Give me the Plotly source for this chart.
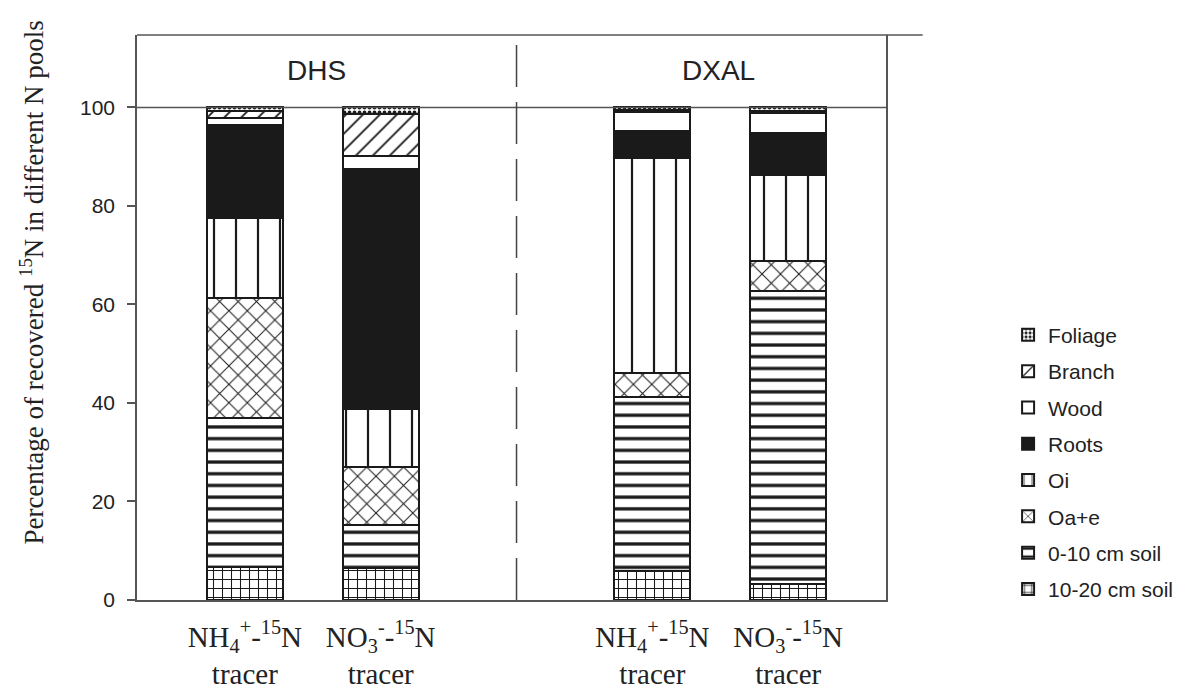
import plotly.graph_objects as go

# ---- data ----
x_pos = [1, 2, 4, 5]
tick_labels = [
    "NH<sub>4</sub><sup>+</sup>-<sup>15</sup>N<br>tracer",
    "NO<sub>3</sub><sup>-</sup>-<sup>15</sup>N<br>tracer",
    "NH<sub>4</sub><sup>+</sup>-<sup>15</sup>N<br>tracer",
    "NO<sub>3</sub><sup>-</sup>-<sup>15</sup>N<br>tracer",
]
panels = ["DHS", "DXAL"]
panel_x = [1.53, 4.49]
divider_x = 3

soil_10_20 = [6.8, 6.5, 5.8, 3.2]
soil_0_10 = [30.1, 8.7, 35.5, 59.5]
oa_e = [24.5, 11.9, 4.8, 6.2]
oi = [16.2, 11.7, 43.7, 17.3]
roots = [18.9, 48.6, 5.4, 8.6]
wood = [1.4, 2.7, 3.8, 4.0]
branch = [1.4, 8.5, 0.4, 0.5]
foliage = [0.7, 1.4, 0.6, 0.7]

y_ticks = [0, 20, 40, 60, 80, 100]

# ---- styles (bottom to top) ----
series = [
    ("10-20 cm soil", soil_10_20, dict(shape="+", size=9, solidity=0.22)),
    ("0-10 cm soil", soil_0_10, dict(shape="-", size=11.7, solidity=0.28)),
    ("Oa+e", oa_e, dict(shape="x", size=13, solidity=0.15)),
    ("Oi", oi, dict(shape="|", size=22, solidity=0.1)),
    ("Roots", roots, None),
    ("Wood", wood, dict(shape="")),
    ("Branch", branch, dict(shape="/", size=12, solidity=0.15)),
    ("Foliage", foliage, dict(shape=".", size=5, solidity=0.45)),
]

fig = go.Figure()
n = len(series)
for i, (name, vals, pat) in enumerate(series):
    if pat is None:
        marker = dict(color="#1a1a1a", line=dict(color="#1a1a1a", width=2))
    else:
        p = dict(pat)
        p.update(fgcolor="#1a1a1a", bgcolor="white", fillmode="replace")
        marker = dict(color="white", pattern=p, line=dict(color="#1a1a1a", width=2))
    fig.add_trace(go.Bar(
        x=x_pos, y=vals, name=name, width=0.56, marker=marker,
        legendgroup=name, legendrank=n - i, hoverinfo="name+y",
    ))

axis_color = "#555555"
fig.update_layout(
    width=1199, height=693,
    barmode="stack",
    plot_bgcolor="white", paper_bgcolor="white",
    margin=dict(l=129, r=321, t=27, b=101),
    showlegend=True,
    legend=dict(
        x=1.163, y=0.505, xanchor="left", yanchor="top",
        traceorder="grouped", tracegroupgap=6,
        font=dict(family="Liberation Sans", size=21, color="#222222"),
        bgcolor="rgba(0,0,0,0)",
    ),
    xaxis=dict(
        range=[0.206, 5.72], tickvals=x_pos, ticktext=tick_labels,
        showline=True, linecolor=axis_color, linewidth=1.5, ticks="",
        ticklabelstandoff=10,
        showgrid=False, zeroline=False,
        tickfont=dict(family="Liberation Serif", size=29, color="#222222"),
    ),
    yaxis=dict(
        range=[0, 114.7], tickvals=y_ticks,
        showline=True, linecolor=axis_color, linewidth=1.5, mirror=True,
        ticks="outside", ticklen=8, tickwidth=1.5, tickcolor=axis_color,
        ticklabelstandoff=8,
        showgrid=False, zeroline=False,
        tickfont=dict(family="Liberation Sans", size=21, color="#222222"),
    ),
)

# header line at 100 and top border
fig.add_shape(type="line", xref="paper", yref="y", x0=0, x1=1, y0=100, y1=100,
              line=dict(color=axis_color, width=1.5))
fig.add_shape(type="line", xref="paper", yref="paper", x0=0, x1=1.049, y0=1, y1=1,
              line=dict(color=axis_color, width=1.5))
# dashed divider
fig.add_shape(type="line", xref="x", yref="paper", x0=divider_x, x1=divider_x, y0=0, y1=1,
              line=dict(color="#444444", width=1.5, dash="42px,15px"))

for name, px in zip(panels, panel_x):
    fig.add_annotation(x=px, y=107.4, xref="x", yref="y", text=name, showarrow=False,
                       font=dict(family="Liberation Sans", size=28, color="#222222"),
                       xanchor="center", yanchor="middle")

fig.add_annotation(
    x=-0.14, y=0.562, xref="paper", yref="paper",
    text="Percentage of recovered <sup>15</sup>N in different N pools",
    textangle=-90, showarrow=False, xanchor="center", yanchor="middle",
    font=dict(family="Liberation Serif", size=27, color="#222222"),
)

fig.write_html("out.html")
